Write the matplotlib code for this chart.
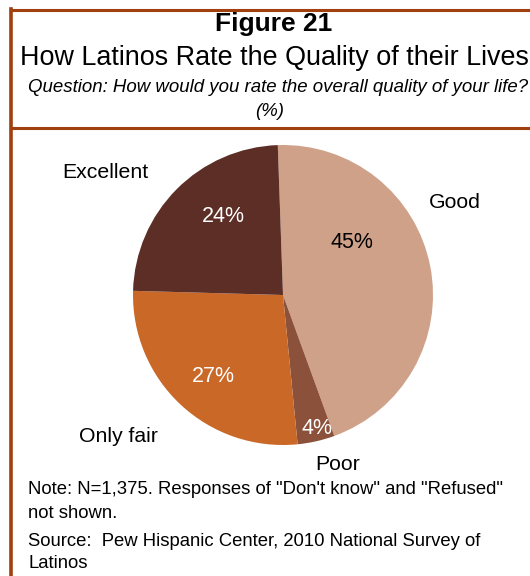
import matplotlib
matplotlib.use("Agg")
import matplotlib.pyplot as plt
from matplotlib.lines import Line2D

plt.rcParams['font.family'] = ['Liberation Sans', 'DejaVu Sans']

# Data
categories = ["Good", "Poor", "Only fair", "Excellent"]
shares = [45, 4, 27, 24]
pct_labels = ["45%", "4%", "27%", "24%"]
colors = ["#CFA189", "#8B513A", "#C96827", "#5C2E25"]
pct_colors = ["black", "white", "white", "white"]

W, H = 530, 576
fig = plt.figure(figsize=(W / 100, H / 100), dpi=100)
fig.patch.set_facecolor("white")

# pie axes: center (283, 295), radius 150 px
r = 150
cx, cy = 283, 295
ax = fig.add_axes([(cx - r) / W, 1 - (cy + r) / H, 2 * r / W, 2 * r / H])
wedges, _ = ax.pie(shares, colors=colors, startangle=92, counterclock=False,
                   wedgeprops=dict(linewidth=0))
ax.set_xlim(-1, 1)
ax.set_ylim(-1, 1)
ax.set_aspect("equal")
ax.axis("off")

# percentage labels inside slices (pixel positions)
pct_pos = [(352, 242), (317, 428), (213, 377), (223, 217)]
for (px, py), t, c in zip(pct_pos, pct_labels, pct_colors):
    fig.text(px / W, 1 - py / H, t, color=c, fontsize=15.5, ha="center", va="center")

# category labels outside
cat_pos = [(455, 203), (338, 464), (118, 436), (105, 173)]
for (px, py), t in zip(cat_pos, categories):
    fig.text(px / W, 1 - py / H, t, color="black", fontsize=15.3, ha="center", va="center")

# frame lines
frame = "#A0400F"
fig.add_artist(Line2D([11 / W, 11 / W], [0, 1 - 9 / H], color=frame, lw=2.6))
fig.add_artist(Line2D([11 / W, 1], [1 - 9.5 / H, 1 - 9.5 / H], color=frame, lw=2.2))
fig.add_artist(Line2D([11 / W, 1], [1 - 128 / H, 1 - 128 / H], color=frame, lw=2.2))

# titles
fig.text(274 / W, 1 - 24 / H, "Figure 21", fontsize=19, fontweight="bold",
         ha="center", va="center")
fig.text(274 / W, 1 - 58 / H, "How Latinos Rate the Quality of their Lives",
         fontsize=19.4, ha="center", va="center")
fig.text(278 / W, 1 - 87 / H,
         "Question: How would you rate the overall quality of your life?",
         fontsize=13.4, style="italic", ha="center", va="center")
fig.text(270 / W, 1 - 111 / H, "(%)", fontsize=13.4, style="italic",
         ha="center", va="center")

# notes
notes = ['Note: N=1,375. Responses of "Don\'t know" and "Refused"',
         "not shown.",
         "Source:  Pew Hispanic Center, 2010 National Survey of",
         "Latinos"]
note_y = [490, 513, 541, 564]
for t, y in zip(notes, note_y):
    fig.text(28 / W, 1 - y / H, t, fontsize=13.3, ha="left", va="center")

fig.savefig("out.png", dpi=100)
